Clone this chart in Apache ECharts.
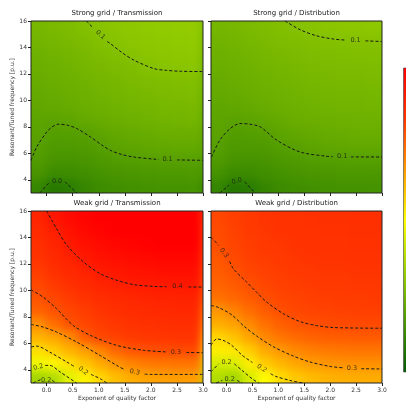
<!DOCTYPE html>
<html><head><meta charset="utf-8">
<script src="https://cdn.jsdelivr.net/npm/echarts@6/dist/echarts.min.js"></script>
<style>
html,body{margin:0;padding:0;background:#fff;}
#wrap{position:relative;width:406px;height:402px;overflow:hidden;background:#fff;}
#bg,#fg{position:absolute;left:0;top:0;width:406px;height:402px;}
#bg{filter:blur(4px);}
</style></head><body>
<div id="wrap"><div id="bg"></div><div id="fg"></div></div>
<script>
// ---------------- data ----------------
const titles = ['Strong grid / Transmission', 'Strong grid / Distribution', 'Weak grid / Transmission', 'Weak grid / Distribution'];
const xName = 'Exponent of quality factor';
const yName = 'Resonant/Tuned frequency [p.u.]';
const xTicks = [0, 0.5, 1, 1.5, 2, 2.5, 3];
const yTicks = [4, 6, 8, 10, 12, 14, 16];
const xCenters = [-0.15, 0.15, 0.45, 0.75, 1.05, 1.35, 1.65, 1.95, 2.25, 2.55, 2.85];
const yCenters = [3.5, 4.5, 5.5, 6.5, 7.5, 8.5, 9.5, 10.5, 11.5, 12.5, 13.5, 14.5, 15.5];

// field values, one row per yCenter (bottom to top), one column per xCenter
const strongTrans = [
 [0.050,0.035,0.040,0.050,0.056,0.060,0.062,0.063,0.064,0.064,0.065],
 [0.066,0.055,0.056,0.060,0.064,0.067,0.069,0.070,0.071,0.071,0.072],
 [0.074,0.066,0.065,0.067,0.071,0.075,0.077,0.079,0.080,0.080,0.080],
 [0.079,0.072,0.072,0.074,0.079,0.083,0.086,0.088,0.089,0.090,0.090],
 [0.082,0.077,0.078,0.080,0.085,0.089,0.092,0.094,0.096,0.097,0.097],
 [0.084,0.083,0.086,0.090,0.094,0.097,0.099,0.101,0.103,0.104,0.105],
 [0.088,0.090,0.093,0.096,0.099,0.101,0.103,0.105,0.107,0.108,0.109],
 [0.091,0.093,0.096,0.099,0.102,0.105,0.107,0.109,0.111,0.112,0.113],
 [0.094,0.096,0.099,0.102,0.105,0.108,0.111,0.113,0.115,0.116,0.117],
 [0.097,0.099,0.102,0.106,0.109,0.112,0.115,0.119,0.122,0.123,0.124],
 [0.100,0.102,0.105,0.109,0.113,0.117,0.121,0.124,0.126,0.127,0.128],
 [0.104,0.106,0.110,0.114,0.118,0.122,0.125,0.127,0.128,0.129,0.130],
 [0.108,0.110,0.114,0.118,0.122,0.125,0.127,0.129,0.130,0.131,0.132]
];
const strongDist = [
 [0.048,0.034,0.038,0.049,0.055,0.059,0.061,0.062,0.063,0.063,0.064],
 [0.064,0.054,0.055,0.059,0.063,0.066,0.068,0.069,0.070,0.070,0.070],
 [0.073,0.065,0.064,0.066,0.070,0.073,0.076,0.077,0.078,0.078,0.078],
 [0.079,0.071,0.071,0.073,0.077,0.081,0.085,0.087,0.088,0.089,0.089],
 [0.082,0.076,0.077,0.079,0.084,0.088,0.091,0.093,0.094,0.095,0.095],
 [0.084,0.082,0.084,0.087,0.092,0.095,0.097,0.098,0.099,0.100,0.100],
 [0.087,0.088,0.091,0.094,0.097,0.099,0.101,0.102,0.103,0.103,0.104],
 [0.090,0.092,0.095,0.098,0.100,0.102,0.104,0.105,0.106,0.106,0.107],
 [0.093,0.095,0.098,0.101,0.103,0.105,0.107,0.108,0.109,0.109,0.110],
 [0.096,0.098,0.101,0.104,0.106,0.108,0.110,0.111,0.112,0.112,0.113],
 [0.099,0.101,0.104,0.107,0.109,0.111,0.113,0.114,0.115,0.116,0.116],
 [0.102,0.104,0.107,0.110,0.113,0.115,0.117,0.118,0.119,0.120,0.120],
 [0.106,0.108,0.111,0.114,0.117,0.120,0.122,0.124,0.125,0.126,0.127]
];
const weakTrans = [
 [0.145,0.155,0.190,0.218,0.238,0.255,0.267,0.273,0.276,0.277,0.277],
 [0.200,0.215,0.232,0.250,0.268,0.284,0.295,0.301,0.304,0.305,0.305],
 [0.232,0.245,0.262,0.277,0.295,0.315,0.326,0.331,0.333,0.334,0.334],
 [0.262,0.272,0.290,0.322,0.336,0.341,0.345,0.347,0.348,0.349,0.349],
 [0.287,0.310,0.328,0.337,0.343,0.348,0.352,0.354,0.356,0.357,0.357],
 [0.318,0.328,0.337,0.344,0.350,0.355,0.359,0.362,0.364,0.365,0.365],
 [0.328,0.337,0.345,0.352,0.358,0.363,0.367,0.370,0.372,0.373,0.374],
 [0.336,0.346,0.355,0.363,0.370,0.376,0.381,0.384,0.386,0.387,0.388],
 [0.344,0.354,0.364,0.374,0.383,0.389,0.394,0.397,0.399,0.400,0.400],
 [0.350,0.362,0.374,0.386,0.395,0.401,0.405,0.408,0.410,0.411,0.411],
 [0.356,0.369,0.384,0.397,0.405,0.411,0.415,0.418,0.420,0.421,0.421],
 [0.363,0.377,0.395,0.407,0.415,0.420,0.424,0.427,0.429,0.430,0.430],
 [0.370,0.390,0.405,0.415,0.420,0.425,0.430,0.432,0.434,0.435,0.436]
];
const weakDist = [
 [0.155,0.145,0.180,0.212,0.234,0.248,0.257,0.262,0.265,0.266,0.267],
 [0.180,0.183,0.222,0.245,0.260,0.271,0.278,0.283,0.285,0.286,0.286],
 [0.222,0.226,0.245,0.268,0.281,0.292,0.298,0.302,0.304,0.305,0.305],
 [0.238,0.252,0.272,0.292,0.305,0.313,0.318,0.321,0.322,0.323,0.323],
 [0.266,0.274,0.291,0.308,0.320,0.327,0.331,0.333,0.334,0.335,0.335],
 [0.283,0.296,0.310,0.322,0.331,0.336,0.339,0.340,0.341,0.342,0.342],
 [0.308,0.315,0.323,0.331,0.337,0.340,0.342,0.343,0.344,0.344,0.345],
 [0.317,0.323,0.331,0.337,0.341,0.343,0.345,0.346,0.346,0.347,0.347],
 [0.322,0.329,0.337,0.341,0.344,0.346,0.347,0.348,0.348,0.349,0.349],
 [0.326,0.335,0.341,0.344,0.346,0.348,0.349,0.350,0.350,0.351,0.351],
 [0.331,0.338,0.343,0.346,0.348,0.350,0.351,0.352,0.352,0.353,0.353],
 [0.333,0.340,0.345,0.348,0.350,0.351,0.352,0.353,0.353,0.354,0.354],
 [0.336,0.342,0.346,0.349,0.351,0.352,0.353,0.354,0.354,0.355,0.355]
];

// contour lines [x, y]; null = gap where the inline label sits
const strongTransContours = [
 [[0.76,16],[0.9,15.45],null,[1.16,14.45],[1.22,14.3],[1.45,13.6],[1.67,13.05],[2.06,12.4],[2.3,12.27],[2.58,12.2],[3.0,12.18]],
 [[-0.3,5.47],[-0.19,6.48],[0.0,7.6],[0.1,7.98],[0.22,8.2],[0.4,8.12],[0.58,7.87],[0.84,7.24],[1.05,6.65],[1.22,6.23],[1.45,5.9],[1.67,5.72],[2.06,5.56],[2.15,5.54],null,[2.5,5.5],[3.0,5.47]],
 [[-0.13,3.0],[0.06,3.84],null,[0.35,3.84],[0.58,3.0]]
];
const strongTransLabels = [[1.03,14.95,'0.1',-43],[2.32,5.52,'0.1',0],[0.2,3.92,'0.0',0]];

const strongDistContours = [
 [[1.13,16],[1.42,15.34],[1.74,14.88],[2.07,14.63],[2.3,14.56],null,[2.68,14.5],[3.0,14.45]],
 [[-0.29,5.72],[-0.13,6.99],[0.07,7.87],[0.26,8.25],[0.45,8.2],[0.65,8.0],[0.97,6.99],[1.42,6.1],[1.94,5.77],[2.05,5.75],null,[2.4,5.73],[3.0,5.72]],
 [[-0.13,3.0],[0.05,3.6],null,[0.35,3.85],[0.55,3.0]]
];
const strongDistLabels = [[2.49,14.53,'0.1',0],[2.23,5.74,'0.1',0],[0.2,3.9,'0.0',15]];

const weakTransContours = [
 [[0.0,16],[0.19,14.67],[0.39,13.4],[0.71,12.14],[1.03,11.26],[1.35,10.76],[1.68,10.43],[2.06,10.3],[2.3,10.28],null,[2.72,10.26],[3.0,10.25]],
 [[-0.3,10.05],[-0.07,9.5],[0.19,8.62],[0.51,7.35],[0.84,6.6],[1.35,5.84],[1.87,5.47],[2.3,5.35],null,[2.68,5.31],[3.0,5.29]],
 [[-0.3,7.43],[-0.07,7.23],[0.19,6.85],[0.58,6.09],[1.03,5.07],[1.35,4.32],[1.5,4.0],null,[1.88,3.67],[2.0,3.65],[3.0,3.65]],
 [[-0.3,5.72],[-0.19,5.79],[0.06,5.33],[0.39,4.58],[0.55,4.2],null,[0.85,3.65],[1.03,3.32],[1.16,2.98]],
 [[-0.3,4.07],null,[-0.03,4.33],[0.06,4.33],[0.26,3.83],[0.58,2.98]],
 [[-0.26,3.0],[-0.12,3.25],null,[0.1,3.2],[0.19,3.0]]
];
const weakTransLabels = [[2.51,10.27,'0.4',0],[2.48,5.33,'0.3',0],[1.69,3.82,'0.3',-12],[0.7,3.92,'0.2',-38],[-0.16,4.2,'0.2',14],[-0.01,3.22,'0.2',0]];

const weakDistContours = [
 [[-0.3,14.03],[-0.15,13.4],null,[0.06,12.2],[0.13,11.64],[0.39,10.62],[0.58,9.86],[0.78,9.1],[1.1,8.23],[1.42,7.64],[1.74,7.34],[2.07,7.19],[3.0,7.14]],
 [[-0.3,8.86],[-0.15,8.7],[0.1,8.15],[0.35,7.25],[0.6,6.5],[0.9,5.75],[1.25,5.1],[1.6,4.6],[2.0,4.25],[2.25,4.15],null,[2.6,4.08],[3.0,4.06]],
 [[-0.3,5.85],[-0.19,6.33],[-0.05,6.2],[0.1,5.85],[0.3,5.1],[0.5,4.55],null,[0.85,3.7],[0.95,3.5],[1.25,3.17],[1.5,2.98]],
 [[-0.3,3.85],[-0.15,4.45],null,[0.15,4.45],[0.3,3.95],[0.5,3.3],[0.63,2.98]],
 [[-0.2,3.0],[-0.08,3.2],null,[0.2,3.2],[0.3,3.0]]
];
const weakDistLabels = [[-0.05,12.83,'0.3',-55],[2.42,4.11,'0.3',0],[0.68,4.11,'0.2',-32],[0.0,4.55,'0.2',0],[0.06,3.28,'0.2',0]];

const colorScale = ['#005a00','#4c9800','#9cd200','#ffff00','#ff9900','#ff3300','#ff0000'];
const valueMin = 0, valueMax = 0.42;

// ---------------- layout / styles ----------------
const W = 406, H = 402;
const X_MIN = -0.3, X_MAX = 3.0, Y_MIN = 3, Y_MAX = 16;
const grids = [
 {left:31, top:21, width:172, height:172},
 {left:211, top:21, width:171, height:172},
 {left:31, top:211, width:172, height:172},
 {left:211, top:211, width:171, height:172}
];
const fields = [strongTrans, strongDist, weakTrans, weakDist];
const contours = [strongTransContours, strongDistContours, weakTransContours, weakDistContours];
const labels = [strongTransLabels, strongDistLabels, weakTransLabels, weakDistLabels];
const FONT = 'DejaVu Sans';
const EXT = 8;

// ---------------- background (colour field, blurred) ----------------
const bg = echarts.init(document.getElementById('bg'), null, {renderer:'canvas', width:W, height:H});
const CW = xCenters[1] - xCenters[0], CH = yCenters[1] - yCenters[0];
const bgGrids = grids.map(g => ({left:g.left-EXT, top:g.top-EXT, width:g.width+2*EXT, height:g.height+2*EXT, show:false}));
const bgX = grids.map((g,i) => {
  const u = (X_MAX-X_MIN)/g.width*EXT;
  return {type:'value', gridIndex:i, min:X_MIN-u, max:X_MAX+u, show:false};
});
const bgY = grids.map((g,i) => {
  const u = (Y_MAX-Y_MIN)/g.height*EXT;
  return {type:'value', gridIndex:i, min:Y_MIN-u, max:Y_MAX+u, show:false};
});
const bgSeries = fields.map((field, i) => {
  const data = [];
  field.forEach((row, r) => row.forEach((v, c) => data.push([xCenters[c], yCenters[r], v, c, r])));
  return {
    type:'custom', xAxisIndex:i, yAxisIndex:i, data, encode:{x:0, y:1},
    renderItem: (params, api) => {
      const xc = api.value(0), yc = api.value(1), c = api.value(3), r = api.value(4);
      const cs = params.coordSys;
      const p0 = api.coord([xc-CW/2, yc+CH/2]);
      const p1 = api.coord([xc+CW/2, yc-CH/2]);
      let x0 = p0[0], y0 = p0[1], x1 = p1[0], y1 = p1[1];
      if (c === 0) x0 = cs.x;
      if (c === xCenters.length-1) x1 = cs.x + cs.width;
      if (r === 0) y1 = cs.y + cs.height;
      if (r === yCenters.length-1) y0 = cs.y;
      return {type:'rect', shape:{x:x0-0.5, y:y0-0.5, width:x1-x0+1, height:y1-y0+1}, style:{fill:api.visual('color')}};
    }
  };
});
bg.setOption({
  animation:false,
  grid:bgGrids, xAxis:bgX, yAxis:bgY,
  visualMap:{type:'continuous', show:false, min:valueMin, max:valueMax, dimension:2, seriesIndex:[0,1,2,3], inRange:{color:colorScale}},
  series:bgSeries
});

// ---------------- foreground (axes, contours, text) ----------------
const fg = echarts.init(document.getElementById('fg'), null, {renderer:'canvas', width:W, height:H});
const fgSeries = [];
contours.forEach((list, i) => {
  list.forEach(pts => {
    let seg = [];
    const segs = [];
    pts.forEach(p => { if (p === null) { segs.push(seg); seg = []; } else seg.push(p); });
    segs.push(seg);
    segs.forEach(s => fgSeries.push({
      type:'line', xAxisIndex:i, yAxisIndex:i, data:s, smooth:0.3, symbol:'none', silent:true,
      lineStyle:{color:'#1a1a1a', width:1, type:[3,2]}, z:3
    }));
  });
});
labels.forEach((list, i) => {
  fgSeries.push({
    type:'scatter', xAxisIndex:i, yAxisIndex:i, symbolSize:0.1, silent:true,
    itemStyle:{color:'transparent'},
    label:{show:true, position:'inside', fontSize:6.5, color:'#1a1a1a', fontFamily:FONT},
    data:list.map(l => ({value:[l[0], l[1]], label:{formatter:l[2], rotate:l[3]}})),
    z:4
  });
});

const L = grids[0].left, R = grids[1].left + grids[1].width;
const T = grids[0].top, B = grids[2].top + grids[2].height;
const gx0 = grids[0].left + grids[0].width, gx1 = grids[1].left;
const gy0 = grids[0].top + grids[0].height, gy1 = grids[2].top;
const masks = [
  [0, 0, W, T], [0, B, W, H-B], [0, gy0, W, gy1-gy0],
  [0, 0, L, H], [R, 0, W-R, H], [gx0, 0, gx1-gx0, H]
].map(m => ({type:'rect', z:-5, silent:true, shape:{x:m[0], y:m[1], width:m[2], height:m[3]}, style:{fill:'#ffffff'}}));

// colour bar (partly cut by the right edge, as in the source image)
const barStops = colorScale.map((c, k) => ({offset: 1 - k/(colorScale.length-1), color:c}));
const colorBar = {type:'rect', z:5, silent:true,
  shape:{x:403.5, y:68, width:8, height:304},
  style:{fill:new echarts.graphic.LinearGradient(0, 0, 0, 1, barStops.slice().reverse()), stroke:'#444', lineWidth:0.6}};

fg.setOption({
  animation:false,
  backgroundColor:'transparent',
  title: grids.map((g,i) => ({
    text:titles[i], left:g.left+g.width/2, top:g.top-11, textAlign:'center', padding:0,
    textStyle:{fontSize:7, fontWeight:'normal', color:'#222', fontFamily:FONT}
  })),
  grid: grids.map(g => Object.assign({show:true, borderColor:'#222', borderWidth:1, backgroundColor:'transparent'}, g)),
  xAxis: grids.map((g,i) => ({
    type:'value', gridIndex:i, min:X_MIN, max:X_MAX,
    axisLine:{show:false, onZero:false}, splitLine:{show:false},
    axisTick:{show:true, inside:false, length:3, customValues:xTicks, lineStyle:{color:'#222', width:1}},
    axisLabel:{show:i>=2, customValues:xTicks, formatter:v => v.toFixed(1), fontSize:6, color:'#333', margin:4, fontFamily:FONT},
    name:i>=2 ? xName : '', nameLocation:'middle', nameGap:12,
    nameTextStyle:{fontSize:6, color:'#333', fontFamily:FONT}
  })),
  yAxis: grids.map((g,i) => ({
    type:'value', gridIndex:i, min:Y_MIN, max:Y_MAX,
    axisLine:{show:false, onZero:false}, splitLine:{show:false},
    axisTick:{show:true, inside:false, length:3, customValues:yTicks, lineStyle:{color:'#222', width:1}},
    axisLabel:{show:i%2===0, customValues:yTicks, formatter:v => String(v), fontSize:6, color:'#333', margin:4, fontFamily:FONT},
    name:i%2===0 ? yName : '', nameLocation:'middle', nameGap:16, nameRotate:90,
    nameTextStyle:{fontSize:6, color:'#333', fontFamily:FONT}
  })),
  graphic:{elements:masks.concat([colorBar])},
  series:fgSeries
});
</script>
</body></html>
